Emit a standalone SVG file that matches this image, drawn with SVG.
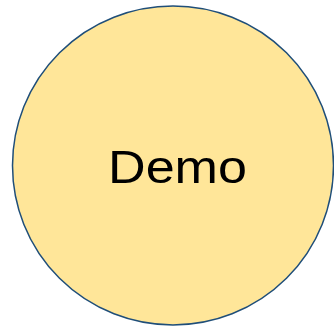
<svg xmlns="http://www.w3.org/2000/svg" width="334" height="326" viewBox="0 0 334 326">
<style>
.node{fill:#FFE699;stroke:#1F4E79;stroke-width:1.5}
.label{font-family:"Liberation Sans",Arial,sans-serif;font-size:47px;fill:#000}
</style>
<rect width="334" height="326" fill="#fff"/>
<g id="connectors"></g>
<g id="demo">
<ellipse class="node" cx="173" cy="165.5" rx="160.5" ry="159.5"/>
<text class="label" x="108" y="183" textLength="139" lengthAdjust="spacingAndGlyphs">Demo</text>
</g>
</svg>
